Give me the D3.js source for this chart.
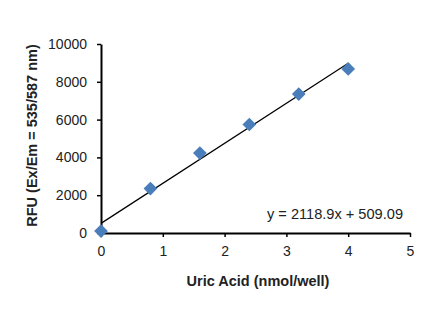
<!DOCTYPE html>
<html>
<head>
<meta charset="utf-8">
<script src="https://cdn.jsdelivr.net/npm/d3@7"></script>
<style>
  body { margin: 0; background: #fff; }
  text { font-family: "Liberation Sans", Arial, sans-serif; }
</style>
</head>
<body>
<div id="chart"></div>
<script>
// data
var uricAcid = [0, 0.8, 1.6, 2.4, 3.2, 4];
var rfu = [100, 2350, 4230, 5740, 7350, 8680];
var xTicks = [0, 1, 2, 3, 4, 5];
var yTicks = [0, 2000, 4000, 6000, 8000, 10000];
var slope = 2118.9, intercept = 509.09;

var margin = { top: 44, right: 16, bottom: 95, left: 101 },
  width = 426 - margin.left - margin.right,
  height = 328 - margin.top - margin.bottom;

var svg = d3.select("#chart")
  .append("svg")
  .attr("width", 426)
  .attr("height", 328)
  .append("g")
  .attr("transform", "translate(" + margin.left + "," + margin.top + ")");

var x = d3.scaleLinear().domain([0, 5]).range([0, 309]);
var y = d3.scaleLinear().domain([0, 10000]).range([height, 0]);

// axes
var xAxis = svg.append("g")
  .attr("transform", "translate(0," + height + ")")
  .call(d3.axisBottom(x).tickValues(xTicks).tickFormat(d3.format("d"))
    .tickSize(4).tickPadding(9).tickSizeOuter(0));
var yAxis = svg.append("g")
  .call(d3.axisLeft(y).tickValues(yTicks).tickFormat(d3.format("d"))
    .tickSize(4).tickPadding(10).tickSizeOuter(0));

[xAxis, yAxis].forEach(function (a) {
  a.select(".domain").attr("stroke", "#000").attr("stroke-width", 2);
  a.selectAll(".tick line").attr("stroke", "#000").attr("stroke-width", 1.5);
  a.selectAll(".tick text").attr("font-size", 14).attr("fill", "#222")
    .style("font-family", "'Liberation Sans', Arial, sans-serif");
});

// trendline
svg.append("line")
  .attr("x1", x(0)).attr("y1", y(intercept))
  .attr("x2", x(4)).attr("y2", y(slope * 4 + intercept))
  .attr("stroke", "#000")
  .attr("stroke-width", 1.2);

// points
var pts = uricAcid.map(function (d, i) { return { x: d, y: rfu[i] }; });
svg.selectAll("path.pt")
  .data(pts)
  .enter()
  .append("path")
  .attr("class", "pt")
  .attr("d", d3.symbol().type(d3.symbolDiamond2).size(120))
  .attr("transform", function (d) { return "translate(" + x(d.x) + "," + y(d.y) + ")"; })
  .attr("fill", "#4a7ebb");

// equation
svg.append("text")
  .attr("x", 302)
  .attr("y", 175)
  .attr("text-anchor", "end")
  .attr("font-size", 14.6)
  .attr("fill", "#222")
  .text("y = 2118.9x + 509.09");

// axis titles
svg.append("text")
  .attr("x", 157)
  .attr("y", height + 53)
  .attr("text-anchor", "middle")
  .attr("font-size", 14.5)
  .attr("font-weight", "bold")
  .attr("fill", "#222")
  .text("Uric Acid (nmol/well)");

svg.append("text")
  .attr("transform", "translate(-64," + (height / 2 - 3) + ") rotate(-90)")
  .attr("text-anchor", "middle")
  .attr("font-size", 14.5)
  .attr("font-weight", "bold")
  .attr("fill", "#222")
  .text("RFU (Ex/Em = 535/587 nm)");
</script>
</body>
</html>
